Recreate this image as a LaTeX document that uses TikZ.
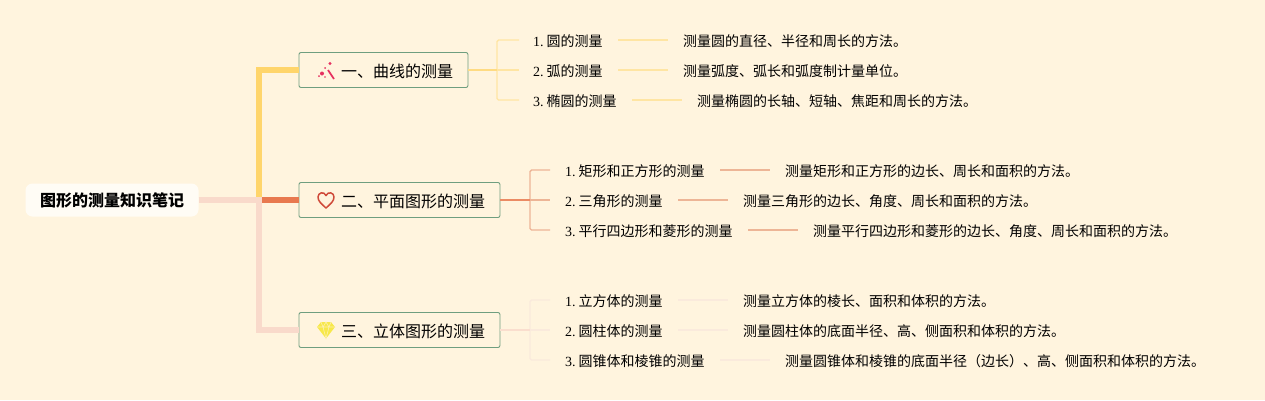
\documentclass[tikz,border=0pt]{standalone}
\usepackage{fontspec}
\setmainfont{Liberation Serif}
\newfontfamily\cjk{Noto Sans CJK SC}
\definecolor{bgc}{HTML}{FFF4DE}
\definecolor{ylw}{HTML}{FFD56B}
\definecolor{org}{HTML}{E8794F}
\definecolor{pnk}{HTML}{F9DACB}
\definecolor{ylwl}{HTML}{FFE5A3}
\definecolor{orgl}{HTML}{EDB596}
\definecolor{pnkl}{HTML}{FAEADC}
\definecolor{grn}{HTML}{6F9E7F}
\definecolor{wandc}{HTML}{E6305F}
\definecolor{heartc}{HTML}{CF4A3A}
\definecolor{gemc}{HTML}{F7E84A}
\tikzset{
  x=1pt,y=-1pt,
  rootnode/.style={fill=white!70!bgc,rounded corners=7pt,minimum width=173pt,minimum height=33pt,inner sep=0pt,font=\fontsize{16}{16}\selectfont\cjk\bfseries},
  branchnode/.style={draw=grn,line width=.9pt,fill=bgc,rounded corners=2pt,minimum height=35pt,inner sep=0pt,anchor=west,font=\fontsize{16}{16}\selectfont\cjk},
  itemtext/.style={anchor=west,inner sep=0pt,font=\fontsize{14}{14}\selectfont},
  trunk/.style={line width=6pt},
  twig/.style={line width=1.4pt,rounded corners=1.5pt},
  leafline/.style={line width=1.4pt},
}
\newcommand{\itm}[2]{#1\hspace{3pt}{\cjk #2}}
\begin{document}
\begin{tikzpicture}
\useasboundingbox (0,0) rectangle (1265,400);
\fill[bgc] (0,0) rectangle (1265,400);
% root and branches
\node[rootnode] (root) at (112,200) {图形的测量知识笔记};
\node[branchnode,minimum width=169pt] (b1) at (298.5,70) {};
\node[branchnode,minimum width=201pt] (b2) at (298.5,200) {};
\node[branchnode,minimum width=201pt] (b3) at (298.5,330) {};
\coordinate (j) at (259,200);
\coordinate (j1) at (259,70);
\coordinate (j3) at (259,330);
% trunk
\draw[trunk,ylw] (j) -- (j1) -- (b1.west);
\draw[trunk,org] (j) -- (b2.west);
\draw[trunk,pnk] (root.east) -- (j) -- (j3) -- (b3.west);
% branch labels
\node[anchor=west,inner sep=0pt,font=\fontsize{16}{16}\selectfont\cjk] (t1) at (341,71) {一、曲线的测量};
\node[anchor=west,inner sep=0pt,font=\fontsize{16}{16}\selectfont\cjk] (t2) at (341,201) {二、平面图形的测量};
\node[anchor=west,inner sep=0pt,font=\fontsize{16}{16}\selectfont\cjk] (t3) at (341,331) {三、立体图形的测量};
% icons
\draw[line width=1.7pt,draw=wandc] (328,70) -- (334,79);
\fill[wandc] (322,73.5) circle (2pt) (319,76) circle (1pt) (325,68) circle (1pt) (330,63.5) circle (1.6pt) (325,77) circle (.8pt);
\draw[draw=heartc,line width=1.5pt,line join=round] (326,208)
 .. controls (321,203.5) and (318,201) .. (318,197)
 .. controls (318,192.5) and (324,191) .. (326,195.5)
 .. controls (328,191) and (334,192.5) .. (334,197)
 .. controls (334,201) and (331,203.5) .. (326,208) -- cycle;
\begin{scope}[shift={(326,330)}]
 \fill[gemc] (-5,-8) -- (5,-8) -- (9,-3) -- (0,8.5) -- (-9,-3) -- cycle;
 \draw[bgc!70!gemc,line width=.6pt] (-9,-3) -- (9,-3) (-3,-3) -- (0,8.5) -- (3,-3) (-5,-8) -- (-3,-3) -- (0,-8) -- (3,-3) -- (5,-8);
\end{scope}
% group 1
\coordinate (c1) at (497,70);
\node[itemtext] (i11) at (533,41) {\itm{1.}{圆的测量}};
\node[itemtext] (i12) at (533,71) {\itm{2.}{弧的测量}};
\node[itemtext] (i13) at (533,101) {\itm{3.}{椭圆的测量}};
\node[itemtext,font=\fontsize{14}{14}\selectfont\cjk] (d11) at (683,41) {测量圆的直径、半径和周长的方法。};
\node[itemtext,font=\fontsize{14}{14}\selectfont\cjk] (d12) at (683,71) {测量弧度、弧长和弧度制计量单位。};
\node[itemtext,font=\fontsize{14}{14}\selectfont\cjk] (d13) at (697,101) {测量椭圆的长轴、短轴、焦距和周长的方法。};
\draw[twig,ylwl] (519,40) -| (c1) |- (519,100);
\draw[twig,ylw!80!bgc] (b1.east) -- (c1);
\draw[twig,ylwl] (c1) -- (519,70);
\draw[leafline,ylwl] (618,40) -- (668,40) (618,70) -- (668,70) (632,100) -- (682,100);
% group 2
\coordinate (c2) at (530,200);
\node[itemtext] (i21) at (565,171) {\itm{1.}{矩形和正方形的测量}};
\node[itemtext] (i22) at (565,201) {\itm{2.}{三角形的测量}};
\node[itemtext] (i23) at (565,231) {\itm{3.}{平行四边形和菱形的测量}};
\node[itemtext,font=\fontsize{14}{14}\selectfont\cjk] (d21) at (785,171) {测量矩形和正方形的边长、周长和面积的方法。};
\node[itemtext,font=\fontsize{14}{14}\selectfont\cjk] (d22) at (743,201) {测量三角形的边长、角度、周长和面积的方法。};
\node[itemtext,font=\fontsize{14}{14}\selectfont\cjk] (d23) at (813,231) {测量平行四边形和菱形的边长、角度、周长和面积的方法。};
\draw[twig,orgl] (550,170) -| (c2) |- (550,230);
\draw[twig,org!85!bgc] (b2.east) -- (c2);
\draw[twig,orgl] (c2) -- (550,200);
\draw[leafline,orgl] (720,170) -- (770,170) (678,200) -- (728,200) (748,230) -- (798,230);
% group 3
\coordinate (c3) at (530,330);
\node[itemtext] (i31) at (565,301) {\itm{1.}{立方体的测量}};
\node[itemtext] (i32) at (565,331) {\itm{2.}{圆柱体的测量}};
\node[itemtext] (i33) at (565,361) {\itm{3.}{圆锥体和棱锥的测量}};
\node[itemtext,font=\fontsize{14}{14}\selectfont\cjk] (d31) at (743,301) {测量立方体的棱长、面积和体积的方法。};
\node[itemtext,font=\fontsize{14}{14}\selectfont\cjk] (d32) at (743,331) {测量圆柱体的底面半径、高、侧面积和体积的方法。};
\node[itemtext,font=\fontsize{14}{14}\selectfont\cjk] (d33) at (785,361) {测量圆锥体和棱锥的底面半径（边长）、高、侧面积和体积的方法。};
\draw[twig,pnkl] (550,300) -| (c3) |- (550,360);
\draw[twig,pnk!85!bgc] (b3.east) -- (c3);
\draw[twig,pnkl] (c3) -- (550,330);
\draw[leafline,pnkl] (678,300) -- (728,300) (678,330) -- (728,330) (720,360) -- (770,360);
\end{tikzpicture}
\end{document}
